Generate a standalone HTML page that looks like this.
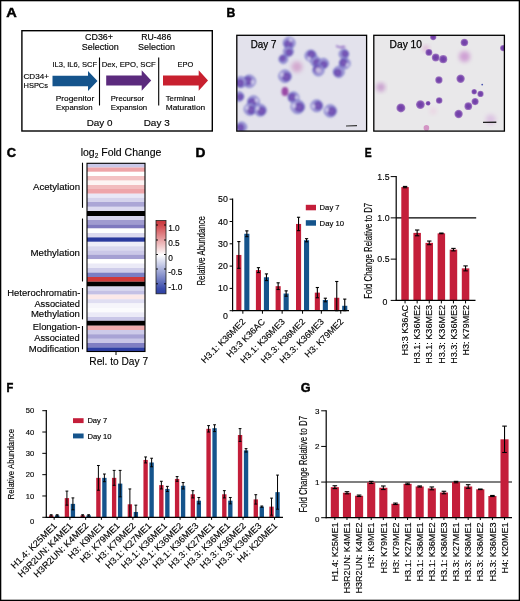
<!DOCTYPE html>
<html><head><meta charset="utf-8"><title>Figure</title>
<style>
html,body{margin:0;padding:0;background:#fff;}
text:not([stroke]){stroke:#000;stroke-width:0.14px;}
svg{display:block;opacity:0.999;font-family:'Liberation Sans', sans-serif;}
</style></head>
<body>
<svg width="520" height="601" viewBox="0 0 520 601" font-family='"Liberation Sans", sans-serif'>
<rect x="0.65" y="0.65" width="518.7" height="599.7" fill="#fff" stroke="#000" stroke-width="1.3"/>
<text x="6.30" y="16.70" font-size="12.5" font-weight="bold" textLength="10.5" lengthAdjust="spacingAndGlyphs" stroke="#000" stroke-width="0.45">A</text>
<text x="226.60" y="16.70" font-size="12.5" font-weight="bold" textLength="8.8" lengthAdjust="spacingAndGlyphs" stroke="#000" stroke-width="0.45">B</text>
<text x="6.70" y="157.30" font-size="12.5" font-weight="bold" textLength="9.3" lengthAdjust="spacingAndGlyphs" stroke="#000" stroke-width="0.45">C</text>
<text x="195.40" y="157.00" font-size="12.5" font-weight="bold" textLength="9.9" lengthAdjust="spacingAndGlyphs" stroke="#000" stroke-width="0.45">D</text>
<text x="364.80" y="157.00" font-size="12.5" font-weight="bold" textLength="6.9" lengthAdjust="spacingAndGlyphs" stroke="#000" stroke-width="0.45">E</text>
<text x="6.50" y="391.50" font-size="12.5" font-weight="bold" textLength="6.8" lengthAdjust="spacingAndGlyphs" stroke="#000" stroke-width="0.45">F</text>
<text x="300.70" y="392.20" font-size="12.5" font-weight="bold" textLength="9.8" lengthAdjust="spacingAndGlyphs" stroke="#000" stroke-width="0.45">G</text>
<rect x="21.9" y="30.7" width="190.4" height="100.3" fill="none" stroke="#000" stroke-width="1.4"/>
<polygon points="52.5,75.7 88,75.7 88,71 97.5,81 88,91 88,86.3 52.5,86.3" fill="#15548c"/>
<polygon points="106.2,75.5 141.7,75.5 141.7,70.2 151.2,80.5 141.7,90.8 141.7,85.5 106.2,85.5" fill="#5b2a7d"/>
<polygon points="163,75.5 198.7,75.5 198.7,70.2 208,80.5 198.7,90.8 198.7,85.5 163,85.5" fill="#c8202f"/>
<line x1="99.50" y1="57.50" x2="99.50" y2="105.50" stroke="#000" stroke-width="1.1" />
<line x1="158.70" y1="57.50" x2="158.70" y2="105.50" stroke="#000" stroke-width="1.1" />
<text x="99.00" y="40.20" font-size="9" text-anchor="middle" textLength="28" lengthAdjust="spacingAndGlyphs" >CD36+</text>
<text x="100.30" y="50.00" font-size="9" text-anchor="middle" textLength="37" lengthAdjust="spacingAndGlyphs" >Selection</text>
<text x="156.30" y="40.20" font-size="9" text-anchor="middle" textLength="30" lengthAdjust="spacingAndGlyphs" >RU-486</text>
<text x="156.60" y="50.00" font-size="9" text-anchor="middle" textLength="37" lengthAdjust="spacingAndGlyphs" >Selection</text>
<text x="52.50" y="67.00" font-size="7.6" textLength="44.5" lengthAdjust="spacingAndGlyphs" >IL3, IL6, SCF</text>
<text x="101.70" y="67.00" font-size="7.6" textLength="54" lengthAdjust="spacingAndGlyphs" >Dex, EPO, SCF</text>
<text x="177.50" y="67.00" font-size="7.6" textLength="15.7" lengthAdjust="spacingAndGlyphs" >EPO</text>
<text x="23.50" y="78.70" font-size="7.6" textLength="25.5" lengthAdjust="spacingAndGlyphs" >CD34+</text>
<text x="23.50" y="88.00" font-size="7.6" textLength="24.5" lengthAdjust="spacingAndGlyphs" >HSPCs</text>
<text x="55.70" y="101.00" font-size="7.6" textLength="38.5" lengthAdjust="spacingAndGlyphs" >Progenitor</text>
<text x="56.00" y="110.00" font-size="7.6" textLength="36.5" lengthAdjust="spacingAndGlyphs" >Expansion</text>
<text x="110.70" y="101.00" font-size="7.6" textLength="33.5" lengthAdjust="spacingAndGlyphs" >Precursor</text>
<text x="110.70" y="110.00" font-size="7.6" textLength="36.5" lengthAdjust="spacingAndGlyphs" >Expansion</text>
<text x="165.70" y="101.00" font-size="7.6" textLength="29.5" lengthAdjust="spacingAndGlyphs" >Terminal</text>
<text x="165.70" y="110.00" font-size="7.6" textLength="39.5" lengthAdjust="spacingAndGlyphs" >Maturation</text>
<text x="86.70" y="125.90" font-size="9.2" textLength="25.8" lengthAdjust="spacingAndGlyphs" >Day 0</text>
<text x="143.70" y="125.90" font-size="9.2" textLength="26" lengthAdjust="spacingAndGlyphs" >Day 3</text>
<defs>
<filter id="bl1" x="-20%" y="-20%" width="140%" height="140%"><feGaussianBlur stdDeviation="0.8"/></filter>
<filter id="bl3" x="-20%" y="-20%" width="140%" height="140%"><feGaussianBlur stdDeviation="0.55"/></filter>
<filter id="bl2" x="-30%" y="-30%" width="160%" height="160%"><feGaussianBlur stdDeviation="2"/></filter>
<radialGradient id="c7" cx="50%" cy="50%" r="50%"><stop offset="0" stop-color="#7f5fba"/><stop offset="0.7" stop-color="#6f4fb2"/><stop offset="1" stop-color="#6550b4"/></radialGradient>
<radialGradient id="c10" cx="50%" cy="50%" r="50%"><stop offset="0" stop-color="#6d3fa6"/><stop offset="0.6" stop-color="#7a47ad"/><stop offset="1" stop-color="#a784c6"/></radialGradient>
<clipPath id="clipB1"><rect x="236.8" y="35.3" width="129.8" height="95.8"/></clipPath>
<clipPath id="clipB2"><rect x="373.8" y="35.3" width="130.6" height="95.8"/></clipPath>
</defs>
<rect x="236.80" y="35.30" width="129.80" height="95.80" fill="#e3e2ec" />
<g clip-path="url(#clipB1)"><g filter="url(#bl1)">
<circle cx="289.2" cy="43" r="5.82" fill="#a9a0da" stroke="#6468c4" stroke-width="0.9"/>
<circle cx="288.63" cy="44.15" r="4.31" fill="url(#c7)"/>
<ellipse cx="290.69" cy="40.02" rx="1.75" ry="2.10" fill="#d4d0ee" opacity="0.9"/>
<circle cx="288.4" cy="51.5" r="4.82" fill="#a9a0da" stroke="#6468c4" stroke-width="0.9"/>
<circle cx="289.02" cy="52.36" r="3.56" fill="url(#c7)"/>
<circle cx="283.3" cy="59.2" r="4.26" fill="#a9a0da" stroke="#6468c4" stroke-width="0.9"/>
<circle cx="282.75" cy="58.44" r="3.15" fill="url(#c7)"/>
<circle cx="285" cy="76.2" r="6.16" fill="#a9a0da" stroke="#6468c4" stroke-width="0.9"/>
<circle cx="286.22" cy="76.80" r="4.56" fill="url(#c7)"/>
<ellipse cx="281.84" cy="74.65" rx="1.85" ry="2.22" fill="#d4d0ee" opacity="0.9"/>
<circle cx="249.3" cy="81.3" r="6.16" fill="#a9a0da" stroke="#6468c4" stroke-width="0.9"/>
<circle cx="247.98" cy="81.00" r="4.56" fill="url(#c7)"/>
<ellipse cx="252.73" cy="82.09" rx="1.85" ry="2.22" fill="#d4d0ee" opacity="0.9"/>
<circle cx="240.8" cy="82.1" r="5.38" fill="#a9a0da" stroke="#6468c4" stroke-width="0.9"/>
<circle cx="240.01" cy="82.98" r="3.98" fill="url(#c7)"/>
<circle cx="239" cy="96.5" r="4.70" fill="#a9a0da" stroke="#6468c4" stroke-width="0.9"/>
<circle cx="239.97" cy="96.87" r="3.48" fill="url(#c7)"/>
<circle cx="293.5" cy="97.4" r="5.38" fill="#a9a0da" stroke="#6468c4" stroke-width="0.9"/>
<circle cx="292.32" cy="97.34" r="3.98" fill="url(#c7)"/>
<ellipse cx="296.57" cy="97.54" rx="1.61" ry="1.94" fill="#d4d0ee" opacity="0.9"/>
<circle cx="297.7" cy="106.8" r="6.72" fill="#a9a0da" stroke="#6468c4" stroke-width="0.9"/>
<circle cx="299.14" cy="107.15" r="4.97" fill="url(#c7)"/>
<ellipse cx="293.96" cy="105.90" rx="2.02" ry="2.42" fill="#d4d0ee" opacity="0.9"/>
<circle cx="253.5" cy="101.7" r="5.82" fill="#a9a0da" stroke="#6468c4" stroke-width="0.9"/>
<circle cx="252.33" cy="102.22" r="4.31" fill="url(#c7)"/>
<ellipse cx="256.55" cy="100.35" rx="1.75" ry="2.10" fill="#d4d0ee" opacity="0.9"/>
<circle cx="250" cy="109.3" r="5.82" fill="#a9a0da" stroke="#6468c4" stroke-width="0.9"/>
<circle cx="251.16" cy="109.84" r="4.31" fill="url(#c7)"/>
<ellipse cx="246.98" cy="107.88" rx="1.75" ry="2.10" fill="#d4d0ee" opacity="0.9"/>
<circle cx="260.3" cy="110.2" r="5.82" fill="#a9a0da" stroke="#6468c4" stroke-width="0.9"/>
<circle cx="261.38" cy="110.89" r="4.31" fill="url(#c7)"/>
<ellipse cx="257.50" cy="108.40" rx="1.75" ry="2.10" fill="#d4d0ee" opacity="0.9"/>
<circle cx="241.6" cy="127" r="4.93" fill="#a9a0da" stroke="#6468c4" stroke-width="0.9"/>
<circle cx="240.64" cy="127.50" r="3.65" fill="url(#c7)"/>
<circle cx="310.7" cy="55.8" r="5.60" fill="#a9a0da" stroke="#6468c4" stroke-width="0.9"/>
<circle cx="311.27" cy="54.71" r="4.14" fill="url(#c7)"/>
<ellipse cx="309.21" cy="58.64" rx="1.68" ry="2.02" fill="#d4d0ee" opacity="0.9"/>
<circle cx="315.8" cy="61.7" r="4.93" fill="#a9a0da" stroke="#6468c4" stroke-width="0.9"/>
<circle cx="316.57" cy="62.46" r="3.65" fill="url(#c7)"/>
<circle cx="323.5" cy="63.4" r="4.93" fill="#a9a0da" stroke="#6468c4" stroke-width="0.9"/>
<circle cx="323.68" cy="64.47" r="3.65" fill="url(#c7)"/>
<circle cx="318.4" cy="70.2" r="5.60" fill="#a9a0da" stroke="#6468c4" stroke-width="0.9"/>
<circle cx="317.54" cy="69.32" r="4.14" fill="url(#c7)"/>
<circle cx="318.4" cy="70.2" r="2.80" fill="#cfc6e6" opacity="0.9"/>
<circle cx="343.9" cy="54.1" r="4.70" fill="#a9a0da" stroke="#6468c4" stroke-width="0.9"/>
<circle cx="344.88" cy="53.77" r="3.48" fill="url(#c7)"/>
<circle cx="344.7" cy="63.4" r="5.38" fill="#a9a0da" stroke="#6468c4" stroke-width="0.9"/>
<circle cx="343.65" cy="62.85" r="3.98" fill="url(#c7)"/>
<ellipse cx="347.42" cy="64.83" rx="1.61" ry="1.94" fill="#d4d0ee" opacity="0.9"/>
<circle cx="338.8" cy="71.9" r="5.38" fill="#a9a0da" stroke="#6468c4" stroke-width="0.9"/>
<circle cx="337.86" cy="72.62" r="3.98" fill="url(#c7)"/>
<circle cx="316.7" cy="105.8" r="5.82" fill="#a9a0da" stroke="#6468c4" stroke-width="0.9"/>
<circle cx="317.97" cy="105.61" r="4.31" fill="url(#c7)"/>
<ellipse cx="313.41" cy="106.30" rx="1.75" ry="2.10" fill="#d4d0ee" opacity="0.9"/>
<circle cx="330.3" cy="110.9" r="6.05" fill="#a9a0da" stroke="#6468c4" stroke-width="0.9"/>
<circle cx="331.57" cy="111.28" r="4.48" fill="url(#c7)"/>
<ellipse cx="326.99" cy="109.90" rx="1.81" ry="2.18" fill="#d4d0ee" opacity="0.9"/>
<ellipse cx="285" cy="91.5" rx="3.4" ry="4.6" fill="#9a4aa6"/>
<path d="M336 45 l4 1.5 l4 -1 l2 2 l-5 1 l-5 -1.5z" fill="#9a78c8"/>
</g>
<circle cx="296.9" cy="66.8" r="5.5" fill="#d3a9cf" filter="url(#bl2)"/>
</g>
<rect x="236.8" y="35.3" width="129.8" height="95.8" fill="none" stroke="#000" stroke-width="1.3"/>
<text x="250.80" y="47.70" font-size="10.2" textLength="25.6" lengthAdjust="spacingAndGlyphs" stroke="#000" stroke-width="0.25">Day 7</text>
<rect x="373.80" y="35.30" width="130.60" height="95.80" fill="#e9e8ea" />
<g clip-path="url(#clipB2)">
<circle cx="380.8" cy="87.2" r="4.5" fill="#c9a0cf" filter="url(#bl2)"/>
<circle cx="464.6" cy="56.5" r="5.5" fill="#cfa0d4" filter="url(#bl2)"/>
<circle cx="490.7" cy="119.4" r="5" fill="#dcc3e2" filter="url(#bl2)"/>
<circle cx="433.2" cy="110.9" r="3.5" fill="#ead6e4" filter="url(#bl2)"/>
<circle cx="426" cy="48.5" r="3.2" fill="#e0b8d8" filter="url(#bl2)"/>
<g filter="url(#bl3)">
<circle cx="433.2" cy="37.1" r="3.15" fill="url(#c10)"/>
<circle cx="428.9" cy="52.4" r="3.46" fill="url(#c10)"/>
<circle cx="435.7" cy="57.5" r="3.89" fill="url(#c10)"/>
<circle cx="443.2" cy="59.2" r="4.09" fill="url(#c10)"/>
<circle cx="438.9" cy="80" r="3.68" fill="url(#c10)"/>
<circle cx="400.9" cy="107.9" r="4.51" fill="url(#c10)"/>
<circle cx="420.4" cy="104.6" r="4.41" fill="url(#c10)"/>
<circle cx="428.1" cy="103.3" r="2.42" fill="url(#c10)"/>
<circle cx="439.2" cy="100.5" r="3.26" fill="url(#c10)"/>
<circle cx="464.4" cy="42.5" r="3.78" fill="url(#c10)"/>
<circle cx="460.6" cy="78.7" r="4.20" fill="url(#c10)"/>
<circle cx="474.2" cy="91.7" r="2.73" fill="url(#c10)"/>
<circle cx="480.5" cy="93.9" r="3.15" fill="url(#c10)"/>
<circle cx="475.1" cy="101.6" r="3.57" fill="url(#c10)"/>
<circle cx="468.3" cy="106.2" r="3.89" fill="url(#c10)"/>
<circle cx="458.6" cy="114" r="4.20" fill="url(#c10)"/>
<circle cx="503.2" cy="48.1" r="3.15" fill="url(#c10)"/>
<circle cx="426.4" cy="127.9" r="2.8" fill="#d394c4"/>
<circle cx="482.2" cy="84.6" r="0.9" fill="#4a55b0"/>
</g></g>
<rect x="373.8" y="35.3" width="130.6" height="95.8" fill="none" stroke="#000" stroke-width="1.3"/>
<text x="389.60" y="47.80" font-size="10.2" textLength="32.4" lengthAdjust="spacingAndGlyphs" stroke="#000" stroke-width="0.25">Day 10</text>
<line x1="346.00" y1="126.00" x2="357.00" y2="125.60" stroke="#333" stroke-width="1.2" />
<line x1="483.00" y1="122.40" x2="496.30" y2="122.20" stroke="#222" stroke-width="1.4" />
<rect x="87.00" y="163.30" width="58.00" height="4.25" fill="#cac8e8" />
<rect x="87.00" y="167.50" width="58.00" height="4.35" fill="#eea4a8" />
<rect x="87.00" y="171.80" width="58.00" height="4.25" fill="#ffffff" />
<rect x="87.00" y="176.00" width="58.00" height="4.65" fill="#f3c2c4" />
<rect x="87.00" y="180.60" width="58.00" height="4.45" fill="#fdf4f4" />
<rect x="87.00" y="185.00" width="58.00" height="4.05" fill="#f2bcbf" />
<rect x="87.00" y="189.00" width="58.00" height="4.75" fill="#eea5aa" />
<rect x="87.00" y="193.70" width="58.00" height="4.15" fill="#e9e8f7" />
<rect x="87.00" y="197.80" width="58.00" height="4.25" fill="#d5d3ec" />
<rect x="87.00" y="202.00" width="58.00" height="4.85" fill="#aba6d6" />
<rect x="87.00" y="206.80" width="58.00" height="4.25" fill="#dcdaf0" />
<rect x="87.00" y="211.00" width="58.00" height="5.05" fill="#000000" />
<rect x="87.00" y="216.00" width="58.00" height="4.05" fill="#d6d4ee" />
<rect x="87.00" y="220.00" width="58.00" height="4.35" fill="#a09bd0" />
<rect x="87.00" y="224.30" width="58.00" height="4.25" fill="#7f79bf" />
<rect x="87.00" y="228.50" width="58.00" height="4.55" fill="#ffffff" />
<rect x="87.00" y="233.00" width="58.00" height="4.45" fill="#dcdaf0" />
<rect x="87.00" y="237.40" width="58.00" height="4.45" fill="#2b3a9e" />
<rect x="87.00" y="241.80" width="58.00" height="4.45" fill="#eeedf8" />
<rect x="87.00" y="246.20" width="58.00" height="4.15" fill="#d9d7ee" />
<rect x="87.00" y="250.30" width="58.00" height="4.35" fill="#cbc8e8" />
<rect x="87.00" y="254.60" width="58.00" height="4.65" fill="#a5a0d3" />
<rect x="87.00" y="259.20" width="58.00" height="4.35" fill="#ffffff" />
<rect x="87.00" y="263.50" width="58.00" height="4.55" fill="#ebeaf7" />
<rect x="87.00" y="268.00" width="58.00" height="4.65" fill="#cfcdea" />
<rect x="87.00" y="272.60" width="58.00" height="4.45" fill="#7c7fc4" />
<rect x="87.00" y="277.00" width="58.00" height="4.75" fill="#d03a3a" />
<rect x="87.00" y="281.70" width="58.00" height="4.85" fill="#000000" />
<rect x="87.00" y="286.50" width="58.00" height="4.05" fill="#d8d6ee" />
<rect x="87.00" y="290.50" width="58.00" height="4.15" fill="#c4c1e5" />
<rect x="87.00" y="294.60" width="58.00" height="4.65" fill="#fbe9e9" />
<rect x="87.00" y="299.20" width="58.00" height="4.25" fill="#e0def2" />
<rect x="87.00" y="303.40" width="58.00" height="4.65" fill="#f6f5fb" />
<rect x="87.00" y="308.00" width="58.00" height="4.35" fill="#fbfbfd" />
<rect x="87.00" y="312.30" width="58.00" height="4.75" fill="#ebeaf7" />
<rect x="87.00" y="317.00" width="58.00" height="3.85" fill="#c9c6e7" />
<rect x="87.00" y="320.80" width="58.00" height="4.95" fill="#000000" />
<rect x="87.00" y="325.70" width="58.00" height="4.35" fill="#eeabae" />
<rect x="87.00" y="330.00" width="58.00" height="4.25" fill="#cdcae9" />
<rect x="87.00" y="334.20" width="58.00" height="4.65" fill="#a8a3d5" />
<rect x="87.00" y="338.80" width="58.00" height="4.25" fill="#c9c6e7" />
<rect x="87.00" y="343.00" width="58.00" height="4.45" fill="#807fc3" />
<rect x="87.00" y="347.40" width="58.00" height="4.15" fill="#2e3ea3" />
<rect x="87.0" y="163.3" width="58.0" height="188.2" fill="none" stroke="#000" stroke-width="1.1"/>
<line x1="116.00" y1="351.50" x2="116.00" y2="355.00" stroke="#000" stroke-width="1.0" />
<line x1="82.50" y1="162.70" x2="82.50" y2="207.80" stroke="#000" stroke-width="1.1" />
<line x1="82.50" y1="218.50" x2="82.50" y2="281.50" stroke="#000" stroke-width="1.1" />
<line x1="82.50" y1="288.00" x2="82.50" y2="319.40" stroke="#000" stroke-width="1.1" />
<line x1="82.50" y1="326.00" x2="82.50" y2="349.30" stroke="#000" stroke-width="1.1" />
<text x="80.70" y="155.60" font-size="10.5" >log<tspan font-size="6.5" dy="2">2</tspan><tspan dy="-2"> Fold Change</tspan></text>
<text x="80.00" y="189.80" font-size="9.6" text-anchor="end" textLength="47" lengthAdjust="spacingAndGlyphs" >Acetylation</text>
<text x="80.00" y="256.20" font-size="9.6" text-anchor="end" textLength="49.5" lengthAdjust="spacingAndGlyphs" >Methylation</text>
<text x="80.30" y="296.20" font-size="9.6" text-anchor="end" textLength="73" lengthAdjust="spacingAndGlyphs" >Heterochromatin-</text>
<text x="79.90" y="306.80" font-size="9.6" text-anchor="end" textLength="45.5" lengthAdjust="spacingAndGlyphs" >Associated</text>
<text x="79.90" y="317.30" font-size="9.6" text-anchor="end" textLength="49" lengthAdjust="spacingAndGlyphs" >Methylation</text>
<text x="80.30" y="330.20" font-size="9.6" text-anchor="end" textLength="47.5" lengthAdjust="spacingAndGlyphs" >Elongation-</text>
<text x="79.70" y="340.60" font-size="9.6" text-anchor="end" textLength="45.5" lengthAdjust="spacingAndGlyphs" >Associated</text>
<text x="79.70" y="352.00" font-size="9.6" text-anchor="end" textLength="51" lengthAdjust="spacingAndGlyphs" >Modification</text>
<text x="89.30" y="365.20" font-size="10.6" textLength="58.8" lengthAdjust="spacingAndGlyphs" >Rel. to Day 7</text>
<defs><linearGradient id="cb" x1="0" y1="0" x2="0" y2="1">
<stop offset="0" stop-color="#c9363c"/><stop offset="0.07" stop-color="#d24a4f"/><stop offset="0.47" stop-color="#ffffff"/><stop offset="0.93" stop-color="#3b4cab"/><stop offset="1" stop-color="#2c3fa2"/></linearGradient></defs>
<rect x="156" y="220.5" width="10" height="73.3" fill="url(#cb)" stroke="#222" stroke-width="0.8"/>
<line x1="156.00" y1="225.00" x2="158.00" y2="225.00" stroke="#000" stroke-width="0.9" />
<line x1="164.00" y1="225.00" x2="166.00" y2="225.00" stroke="#000" stroke-width="0.9" />
<text x="168.20" y="231.20" font-size="8.3" >1.0</text>
<line x1="156.00" y1="240.00" x2="158.00" y2="240.00" stroke="#000" stroke-width="0.9" />
<line x1="164.00" y1="240.00" x2="166.00" y2="240.00" stroke="#000" stroke-width="0.9" />
<text x="168.20" y="246.20" font-size="8.3" >0.5</text>
<line x1="156.00" y1="254.50" x2="158.00" y2="254.50" stroke="#000" stroke-width="0.9" />
<line x1="164.00" y1="254.50" x2="166.00" y2="254.50" stroke="#000" stroke-width="0.9" />
<text x="168.20" y="260.70" font-size="8.3" >0</text>
<line x1="156.00" y1="269.00" x2="158.00" y2="269.00" stroke="#000" stroke-width="0.9" />
<line x1="164.00" y1="269.00" x2="166.00" y2="269.00" stroke="#000" stroke-width="0.9" />
<text x="168.20" y="275.20" font-size="8.3" >-0.5</text>
<line x1="156.00" y1="283.80" x2="158.00" y2="283.80" stroke="#000" stroke-width="0.9" />
<line x1="164.00" y1="283.80" x2="166.00" y2="283.80" stroke="#000" stroke-width="0.9" />
<text x="168.20" y="290.00" font-size="8.3" >-1.0</text>
<rect x="236.30" y="254.95" width="5.10" height="55.75" fill="#c41e3a" />
<rect x="244.30" y="233.76" width="5.10" height="76.94" fill="#15548c" />
<line x1="238.85" y1="241.57" x2="238.85" y2="268.33" stroke="#000" stroke-width="1.1" />
<line x1="237.25" y1="241.57" x2="240.45" y2="241.57" stroke="#000" stroke-width="1.1" />
<line x1="237.25" y1="268.33" x2="240.45" y2="268.33" stroke="#000" stroke-width="1.1" />
<line x1="246.85" y1="230.87" x2="246.85" y2="236.66" stroke="#000" stroke-width="1.1" />
<line x1="245.25" y1="230.87" x2="248.45" y2="230.87" stroke="#000" stroke-width="1.1" />
<line x1="245.25" y1="236.66" x2="248.45" y2="236.66" stroke="#000" stroke-width="1.1" />
<rect x="255.90" y="270.11" width="5.10" height="40.59" fill="#c41e3a" />
<rect x="263.90" y="277.25" width="5.10" height="33.45" fill="#15548c" />
<line x1="258.45" y1="267.66" x2="258.45" y2="272.57" stroke="#000" stroke-width="1.1" />
<line x1="256.85" y1="267.66" x2="260.05" y2="267.66" stroke="#000" stroke-width="1.1" />
<line x1="256.85" y1="272.57" x2="260.05" y2="272.57" stroke="#000" stroke-width="1.1" />
<line x1="266.45" y1="273.90" x2="266.45" y2="280.59" stroke="#000" stroke-width="1.1" />
<line x1="264.85" y1="273.90" x2="268.05" y2="273.90" stroke="#000" stroke-width="1.1" />
<line x1="264.85" y1="280.59" x2="268.05" y2="280.59" stroke="#000" stroke-width="1.1" />
<rect x="275.60" y="286.17" width="5.10" height="24.53" fill="#c41e3a" />
<rect x="283.60" y="293.53" width="5.10" height="17.17" fill="#15548c" />
<line x1="278.15" y1="282.82" x2="278.15" y2="289.51" stroke="#000" stroke-width="1.1" />
<line x1="276.55" y1="282.82" x2="279.75" y2="282.82" stroke="#000" stroke-width="1.1" />
<line x1="276.55" y1="289.51" x2="279.75" y2="289.51" stroke="#000" stroke-width="1.1" />
<line x1="286.15" y1="290.85" x2="286.15" y2="296.20" stroke="#000" stroke-width="1.1" />
<line x1="284.55" y1="290.85" x2="287.75" y2="290.85" stroke="#000" stroke-width="1.1" />
<line x1="284.55" y1="296.20" x2="287.75" y2="296.20" stroke="#000" stroke-width="1.1" />
<rect x="296.00" y="223.95" width="5.10" height="86.75" fill="#c41e3a" />
<rect x="304.00" y="240.23" width="5.10" height="70.47" fill="#15548c" />
<line x1="298.55" y1="217.26" x2="298.55" y2="230.64" stroke="#000" stroke-width="1.1" />
<line x1="296.95" y1="217.26" x2="300.15" y2="217.26" stroke="#000" stroke-width="1.1" />
<line x1="296.95" y1="230.64" x2="300.15" y2="230.64" stroke="#000" stroke-width="1.1" />
<line x1="306.55" y1="238.67" x2="306.55" y2="241.79" stroke="#000" stroke-width="1.1" />
<line x1="304.95" y1="238.67" x2="308.15" y2="238.67" stroke="#000" stroke-width="1.1" />
<line x1="304.95" y1="241.79" x2="308.15" y2="241.79" stroke="#000" stroke-width="1.1" />
<rect x="314.80" y="292.64" width="5.10" height="18.06" fill="#c41e3a" />
<rect x="322.80" y="300.00" width="5.10" height="10.70" fill="#15548c" />
<line x1="317.35" y1="287.51" x2="317.35" y2="297.77" stroke="#000" stroke-width="1.1" />
<line x1="315.75" y1="287.51" x2="318.95" y2="287.51" stroke="#000" stroke-width="1.1" />
<line x1="315.75" y1="297.77" x2="318.95" y2="297.77" stroke="#000" stroke-width="1.1" />
<line x1="325.35" y1="298.21" x2="325.35" y2="301.78" stroke="#000" stroke-width="1.1" />
<line x1="323.75" y1="298.21" x2="326.95" y2="298.21" stroke="#000" stroke-width="1.1" />
<line x1="323.75" y1="301.78" x2="326.95" y2="301.78" stroke="#000" stroke-width="1.1" />
<rect x="334.20" y="297.77" width="5.10" height="12.93" fill="#c41e3a" />
<rect x="342.20" y="305.79" width="5.10" height="4.91" fill="#15548c" />
<line x1="336.75" y1="281.49" x2="336.75" y2="310.70" stroke="#000" stroke-width="1.1" />
<line x1="335.15" y1="281.49" x2="338.35" y2="281.49" stroke="#000" stroke-width="1.1" />
<line x1="335.15" y1="310.70" x2="338.35" y2="310.70" stroke="#000" stroke-width="1.1" />
<line x1="344.75" y1="299.10" x2="344.75" y2="310.70" stroke="#000" stroke-width="1.1" />
<line x1="343.15" y1="299.10" x2="346.35" y2="299.10" stroke="#000" stroke-width="1.1" />
<line x1="343.15" y1="310.70" x2="346.35" y2="310.70" stroke="#000" stroke-width="1.1" />
<line x1="232.60" y1="198.60" x2="232.60" y2="311.30" stroke="#000" stroke-width="1.2" />
<line x1="232.00" y1="310.70" x2="349.00" y2="310.70" stroke="#000" stroke-width="1.2" />
<line x1="229.60" y1="310.70" x2="232.60" y2="310.70" stroke="#000" stroke-width="1.0" />
<text x="227.80" y="318.50" font-size="8.8" text-anchor="end" >0</text>
<line x1="229.60" y1="288.40" x2="232.60" y2="288.40" stroke="#000" stroke-width="1.0" />
<text x="227.80" y="291.40" font-size="8.8" text-anchor="end" >10</text>
<line x1="229.60" y1="266.10" x2="232.60" y2="266.10" stroke="#000" stroke-width="1.0" />
<text x="227.80" y="269.10" font-size="8.8" text-anchor="end" >20</text>
<line x1="229.60" y1="243.80" x2="232.60" y2="243.80" stroke="#000" stroke-width="1.0" />
<text x="227.80" y="246.80" font-size="8.8" text-anchor="end" >30</text>
<line x1="229.60" y1="221.50" x2="232.60" y2="221.50" stroke="#000" stroke-width="1.0" />
<text x="227.80" y="224.50" font-size="8.8" text-anchor="end" >40</text>
<line x1="229.60" y1="199.20" x2="232.60" y2="199.20" stroke="#000" stroke-width="1.0" />
<text x="227.80" y="202.20" font-size="8.8" text-anchor="end" >50</text>
<line x1="242.85" y1="310.70" x2="242.85" y2="313.70" stroke="#000" stroke-width="1.0" />
<line x1="262.45" y1="310.70" x2="262.45" y2="313.70" stroke="#000" stroke-width="1.0" />
<line x1="282.15" y1="310.70" x2="282.15" y2="313.70" stroke="#000" stroke-width="1.0" />
<line x1="302.55" y1="310.70" x2="302.55" y2="313.70" stroke="#000" stroke-width="1.0" />
<line x1="321.35" y1="310.70" x2="321.35" y2="313.70" stroke="#000" stroke-width="1.0" />
<line x1="340.75" y1="310.70" x2="340.75" y2="313.70" stroke="#000" stroke-width="1.0" />
<text transform="translate(246.15 322.30) rotate(-45)" font-size="8.9" text-anchor="end" textLength="58.5" lengthAdjust="spacingAndGlyphs" >H3.1: K36ME2</text>
<text transform="translate(265.75 322.30) rotate(-45)" font-size="8.9" text-anchor="end" textLength="50.5" lengthAdjust="spacingAndGlyphs" >H3:3 K36AC</text>
<text transform="translate(285.45 322.30) rotate(-45)" font-size="8.9" text-anchor="end" textLength="58.5" lengthAdjust="spacingAndGlyphs" >H3.1: K36ME3</text>
<text transform="translate(305.85 322.30) rotate(-45)" font-size="8.9" text-anchor="end" textLength="58.5" lengthAdjust="spacingAndGlyphs" >H3.3: K36ME2</text>
<text transform="translate(324.65 322.30) rotate(-45)" font-size="8.9" text-anchor="end" textLength="58.5" lengthAdjust="spacingAndGlyphs" >H3.3: K36ME3</text>
<text transform="translate(344.05 322.30) rotate(-45)" font-size="8.9" text-anchor="end" textLength="50.5" lengthAdjust="spacingAndGlyphs" >H3: K79ME2</text>
<text transform="translate(205.30 250.80) rotate(-90)" font-size="10.5" text-anchor="middle" textLength="69.5" lengthAdjust="spacingAndGlyphs" >Relative Abundance</text>
<rect x="305.80" y="204.80" width="10.20" height="5.50" fill="#c41e3a" />
<text x="319.60" y="210.10" font-size="7.7" textLength="20" lengthAdjust="spacingAndGlyphs" >Day 7</text>
<rect x="305.80" y="220.20" width="10.20" height="5.50" fill="#15548c" />
<text x="319.60" y="225.50" font-size="7.7" textLength="24.5" lengthAdjust="spacingAndGlyphs" >Day 10</text>
<line x1="396.20" y1="217.87" x2="476.20" y2="217.87" stroke="#000" stroke-width="1.1" />
<rect x="401.30" y="187.08" width="7.50" height="113.32" fill="#c41e3a" />
<line x1="405.05" y1="186.42" x2="405.05" y2="187.74" stroke="#000" stroke-width="1.1" />
<line x1="402.85" y1="186.42" x2="407.25" y2="186.42" stroke="#000" stroke-width="1.1" />
<line x1="402.85" y1="187.74" x2="407.25" y2="187.74" stroke="#000" stroke-width="1.1" />
<rect x="413.40" y="232.89" width="7.50" height="67.51" fill="#c41e3a" />
<line x1="417.15" y1="230.00" x2="417.15" y2="235.78" stroke="#000" stroke-width="1.1" />
<line x1="414.95" y1="230.00" x2="419.35" y2="230.00" stroke="#000" stroke-width="1.1" />
<line x1="414.95" y1="235.78" x2="419.35" y2="235.78" stroke="#000" stroke-width="1.1" />
<rect x="425.50" y="242.87" width="7.50" height="57.53" fill="#c41e3a" />
<line x1="429.25" y1="241.06" x2="429.25" y2="244.69" stroke="#000" stroke-width="1.1" />
<line x1="427.05" y1="241.06" x2="431.45" y2="241.06" stroke="#000" stroke-width="1.1" />
<line x1="427.05" y1="244.69" x2="431.45" y2="244.69" stroke="#000" stroke-width="1.1" />
<rect x="437.60" y="233.38" width="7.50" height="67.02" fill="#c41e3a" />
<line x1="441.35" y1="233.05" x2="441.35" y2="233.71" stroke="#000" stroke-width="1.1" />
<line x1="439.15" y1="233.05" x2="443.55" y2="233.05" stroke="#000" stroke-width="1.1" />
<line x1="439.15" y1="233.71" x2="443.55" y2="233.71" stroke="#000" stroke-width="1.1" />
<rect x="449.70" y="249.64" width="7.50" height="50.76" fill="#c41e3a" />
<line x1="453.45" y1="248.40" x2="453.45" y2="250.88" stroke="#000" stroke-width="1.1" />
<line x1="451.25" y1="248.40" x2="455.65" y2="248.40" stroke="#000" stroke-width="1.1" />
<line x1="451.25" y1="250.88" x2="455.65" y2="250.88" stroke="#000" stroke-width="1.1" />
<rect x="461.80" y="268.38" width="7.50" height="32.02" fill="#c41e3a" />
<line x1="465.55" y1="265.90" x2="465.55" y2="270.85" stroke="#000" stroke-width="1.1" />
<line x1="463.35" y1="265.90" x2="467.75" y2="265.90" stroke="#000" stroke-width="1.1" />
<line x1="463.35" y1="270.85" x2="467.75" y2="270.85" stroke="#000" stroke-width="1.1" />
<line x1="396.20" y1="176.00" x2="396.20" y2="301.00" stroke="#000" stroke-width="1.2" />
<line x1="395.60" y1="300.40" x2="475.50" y2="300.40" stroke="#000" stroke-width="1.2" />
<line x1="390.70" y1="300.40" x2="396.20" y2="300.40" stroke="#000" stroke-width="1.0" />
<text x="387.50" y="305.00" font-size="8.8" text-anchor="end" >0</text>
<line x1="390.70" y1="259.13" x2="396.20" y2="259.13" stroke="#000" stroke-width="1.0" />
<text x="389.60" y="262.13" font-size="8.8" text-anchor="end" >0.5</text>
<line x1="390.70" y1="217.87" x2="396.20" y2="217.87" stroke="#000" stroke-width="1.0" />
<text x="389.60" y="220.87" font-size="8.8" text-anchor="end" >1.0</text>
<line x1="390.70" y1="176.60" x2="396.20" y2="176.60" stroke="#000" stroke-width="1.0" />
<text x="389.60" y="179.60" font-size="8.8" text-anchor="end" >1.5</text>
<line x1="405.05" y1="300.40" x2="405.05" y2="303.40" stroke="#000" stroke-width="1.0" />
<text transform="translate(408.25 305.00) rotate(-90)" font-size="8.9" text-anchor="end" textLength="50.5" lengthAdjust="spacingAndGlyphs" >H3:3 K36AC</text>
<line x1="417.15" y1="300.40" x2="417.15" y2="303.40" stroke="#000" stroke-width="1.0" />
<text transform="translate(420.35 305.00) rotate(-90)" font-size="8.9" text-anchor="end" textLength="58.8" lengthAdjust="spacingAndGlyphs" >H3.1: K36ME2</text>
<line x1="429.25" y1="300.40" x2="429.25" y2="303.40" stroke="#000" stroke-width="1.0" />
<text transform="translate(432.45 305.00) rotate(-90)" font-size="8.9" text-anchor="end" textLength="58.8" lengthAdjust="spacingAndGlyphs" >H3.1: K36ME3</text>
<line x1="441.35" y1="300.40" x2="441.35" y2="303.40" stroke="#000" stroke-width="1.0" />
<text transform="translate(444.55 305.00) rotate(-90)" font-size="8.9" text-anchor="end" textLength="58.8" lengthAdjust="spacingAndGlyphs" >H3.3: K36ME2</text>
<line x1="453.45" y1="300.40" x2="453.45" y2="303.40" stroke="#000" stroke-width="1.0" />
<text transform="translate(456.65 305.00) rotate(-90)" font-size="8.9" text-anchor="end" textLength="58.8" lengthAdjust="spacingAndGlyphs" >H3.3: K36ME3</text>
<line x1="465.55" y1="300.40" x2="465.55" y2="303.40" stroke="#000" stroke-width="1.0" />
<text transform="translate(468.75 305.00) rotate(-90)" font-size="8.9" text-anchor="end" textLength="50.5" lengthAdjust="spacingAndGlyphs" >H3: K79ME2</text>
<text transform="translate(372.30 250.80) rotate(-90)" font-size="10.3" text-anchor="middle" textLength="96" lengthAdjust="spacingAndGlyphs" >Fold Change Relative to D7</text>
<rect x="49.00" y="515.38" width="4.35" height="1.92" fill="#c41e3a" />
<rect x="55.00" y="515.38" width="4.35" height="1.92" fill="#15548c" />
<line x1="51.17" y1="514.74" x2="51.17" y2="516.02" stroke="#000" stroke-width="1.0" />
<line x1="49.77" y1="514.74" x2="52.57" y2="514.74" stroke="#000" stroke-width="1.0" />
<line x1="49.77" y1="516.02" x2="52.57" y2="516.02" stroke="#000" stroke-width="1.0" />
<line x1="57.17" y1="514.74" x2="57.17" y2="516.02" stroke="#000" stroke-width="1.0" />
<line x1="55.77" y1="514.74" x2="58.57" y2="514.74" stroke="#000" stroke-width="1.0" />
<line x1="55.77" y1="516.02" x2="58.57" y2="516.02" stroke="#000" stroke-width="1.0" />
<rect x="64.74" y="498.11" width="4.35" height="19.19" fill="#c41e3a" />
<rect x="70.74" y="503.87" width="4.35" height="13.43" fill="#15548c" />
<line x1="66.91" y1="491.08" x2="66.91" y2="505.15" stroke="#000" stroke-width="1.0" />
<line x1="65.51" y1="491.08" x2="68.31" y2="491.08" stroke="#000" stroke-width="1.0" />
<line x1="65.51" y1="505.15" x2="68.31" y2="505.15" stroke="#000" stroke-width="1.0" />
<line x1="72.91" y1="497.90" x2="72.91" y2="509.84" stroke="#000" stroke-width="1.0" />
<line x1="71.51" y1="497.90" x2="74.31" y2="497.90" stroke="#000" stroke-width="1.0" />
<line x1="71.51" y1="509.84" x2="74.31" y2="509.84" stroke="#000" stroke-width="1.0" />
<rect x="80.48" y="515.38" width="4.35" height="1.92" fill="#c41e3a" />
<rect x="86.48" y="515.38" width="4.35" height="1.92" fill="#15548c" />
<line x1="82.66" y1="514.74" x2="82.66" y2="516.02" stroke="#000" stroke-width="1.0" />
<line x1="81.25" y1="514.74" x2="84.06" y2="514.74" stroke="#000" stroke-width="1.0" />
<line x1="81.25" y1="516.02" x2="84.06" y2="516.02" stroke="#000" stroke-width="1.0" />
<line x1="88.66" y1="514.74" x2="88.66" y2="516.02" stroke="#000" stroke-width="1.0" />
<line x1="87.25" y1="514.74" x2="90.06" y2="514.74" stroke="#000" stroke-width="1.0" />
<line x1="87.25" y1="516.02" x2="90.06" y2="516.02" stroke="#000" stroke-width="1.0" />
<rect x="96.22" y="477.86" width="4.35" height="39.44" fill="#c41e3a" />
<rect x="102.22" y="477.86" width="4.35" height="39.44" fill="#15548c" />
<line x1="98.39" y1="465.49" x2="98.39" y2="490.22" stroke="#000" stroke-width="1.0" />
<line x1="96.99" y1="465.49" x2="99.80" y2="465.49" stroke="#000" stroke-width="1.0" />
<line x1="96.99" y1="490.22" x2="99.80" y2="490.22" stroke="#000" stroke-width="1.0" />
<line x1="104.39" y1="474.02" x2="104.39" y2="481.70" stroke="#000" stroke-width="1.0" />
<line x1="102.99" y1="474.02" x2="105.80" y2="474.02" stroke="#000" stroke-width="1.0" />
<line x1="102.99" y1="481.70" x2="105.80" y2="481.70" stroke="#000" stroke-width="1.0" />
<rect x="111.96" y="477.86" width="4.35" height="39.44" fill="#c41e3a" />
<rect x="117.96" y="483.61" width="4.35" height="33.69" fill="#15548c" />
<line x1="114.14" y1="470.40" x2="114.14" y2="485.32" stroke="#000" stroke-width="1.0" />
<line x1="112.73" y1="470.40" x2="115.54" y2="470.40" stroke="#000" stroke-width="1.0" />
<line x1="112.73" y1="485.32" x2="115.54" y2="485.32" stroke="#000" stroke-width="1.0" />
<line x1="120.14" y1="470.40" x2="120.14" y2="496.83" stroke="#000" stroke-width="1.0" />
<line x1="118.73" y1="470.40" x2="121.54" y2="470.40" stroke="#000" stroke-width="1.0" />
<line x1="118.73" y1="496.83" x2="121.54" y2="496.83" stroke="#000" stroke-width="1.0" />
<rect x="127.70" y="504.29" width="4.35" height="13.01" fill="#c41e3a" />
<rect x="133.70" y="511.97" width="4.35" height="5.33" fill="#15548c" />
<line x1="129.88" y1="488.94" x2="129.88" y2="517.30" stroke="#000" stroke-width="1.0" />
<line x1="128.47" y1="488.94" x2="131.28" y2="488.94" stroke="#000" stroke-width="1.0" />
<line x1="128.47" y1="517.30" x2="131.28" y2="517.30" stroke="#000" stroke-width="1.0" />
<line x1="135.88" y1="505.15" x2="135.88" y2="517.30" stroke="#000" stroke-width="1.0" />
<line x1="134.47" y1="505.15" x2="137.28" y2="505.15" stroke="#000" stroke-width="1.0" />
<line x1="134.47" y1="517.30" x2="137.28" y2="517.30" stroke="#000" stroke-width="1.0" />
<rect x="143.44" y="459.95" width="4.35" height="57.35" fill="#c41e3a" />
<rect x="149.44" y="462.51" width="4.35" height="54.79" fill="#15548c" />
<line x1="145.62" y1="456.96" x2="145.62" y2="462.93" stroke="#000" stroke-width="1.0" />
<line x1="144.22" y1="456.96" x2="147.02" y2="456.96" stroke="#000" stroke-width="1.0" />
<line x1="144.22" y1="462.93" x2="147.02" y2="462.93" stroke="#000" stroke-width="1.0" />
<line x1="151.62" y1="458.24" x2="151.62" y2="466.77" stroke="#000" stroke-width="1.0" />
<line x1="150.22" y1="458.24" x2="153.02" y2="458.24" stroke="#000" stroke-width="1.0" />
<line x1="150.22" y1="466.77" x2="153.02" y2="466.77" stroke="#000" stroke-width="1.0" />
<rect x="159.18" y="485.11" width="4.35" height="32.19" fill="#c41e3a" />
<rect x="165.18" y="488.94" width="4.35" height="28.36" fill="#15548c" />
<line x1="161.36" y1="481.27" x2="161.36" y2="488.94" stroke="#000" stroke-width="1.0" />
<line x1="159.96" y1="481.27" x2="162.76" y2="481.27" stroke="#000" stroke-width="1.0" />
<line x1="159.96" y1="488.94" x2="162.76" y2="488.94" stroke="#000" stroke-width="1.0" />
<line x1="167.36" y1="486.39" x2="167.36" y2="491.50" stroke="#000" stroke-width="1.0" />
<line x1="165.96" y1="486.39" x2="168.76" y2="486.39" stroke="#000" stroke-width="1.0" />
<line x1="165.96" y1="491.50" x2="168.76" y2="491.50" stroke="#000" stroke-width="1.0" />
<rect x="174.92" y="478.92" width="4.35" height="38.38" fill="#c41e3a" />
<rect x="180.92" y="485.75" width="4.35" height="31.55" fill="#15548c" />
<line x1="177.10" y1="476.58" x2="177.10" y2="481.27" stroke="#000" stroke-width="1.0" />
<line x1="175.70" y1="476.58" x2="178.50" y2="476.58" stroke="#000" stroke-width="1.0" />
<line x1="175.70" y1="481.27" x2="178.50" y2="481.27" stroke="#000" stroke-width="1.0" />
<line x1="183.10" y1="482.55" x2="183.10" y2="488.94" stroke="#000" stroke-width="1.0" />
<line x1="181.70" y1="482.55" x2="184.50" y2="482.55" stroke="#000" stroke-width="1.0" />
<line x1="181.70" y1="488.94" x2="184.50" y2="488.94" stroke="#000" stroke-width="1.0" />
<rect x="190.66" y="494.27" width="4.35" height="23.03" fill="#c41e3a" />
<rect x="196.66" y="500.67" width="4.35" height="16.63" fill="#15548c" />
<line x1="192.84" y1="490.65" x2="192.84" y2="497.90" stroke="#000" stroke-width="1.0" />
<line x1="191.44" y1="490.65" x2="194.24" y2="490.65" stroke="#000" stroke-width="1.0" />
<line x1="191.44" y1="497.90" x2="194.24" y2="497.90" stroke="#000" stroke-width="1.0" />
<line x1="198.84" y1="497.47" x2="198.84" y2="503.87" stroke="#000" stroke-width="1.0" />
<line x1="197.44" y1="497.47" x2="200.24" y2="497.47" stroke="#000" stroke-width="1.0" />
<line x1="197.44" y1="503.87" x2="200.24" y2="503.87" stroke="#000" stroke-width="1.0" />
<rect x="206.40" y="428.82" width="4.35" height="88.48" fill="#c41e3a" />
<rect x="212.40" y="428.18" width="4.35" height="89.12" fill="#15548c" />
<line x1="208.58" y1="425.62" x2="208.58" y2="432.02" stroke="#000" stroke-width="1.0" />
<line x1="207.18" y1="425.62" x2="209.98" y2="425.62" stroke="#000" stroke-width="1.0" />
<line x1="207.18" y1="432.02" x2="209.98" y2="432.02" stroke="#000" stroke-width="1.0" />
<line x1="214.58" y1="424.77" x2="214.58" y2="431.59" stroke="#000" stroke-width="1.0" />
<line x1="213.18" y1="424.77" x2="215.98" y2="424.77" stroke="#000" stroke-width="1.0" />
<line x1="213.18" y1="431.59" x2="215.98" y2="431.59" stroke="#000" stroke-width="1.0" />
<rect x="222.14" y="494.27" width="4.35" height="23.03" fill="#c41e3a" />
<rect x="228.14" y="500.67" width="4.35" height="16.63" fill="#15548c" />
<line x1="224.32" y1="490.65" x2="224.32" y2="497.90" stroke="#000" stroke-width="1.0" />
<line x1="222.92" y1="490.65" x2="225.72" y2="490.65" stroke="#000" stroke-width="1.0" />
<line x1="222.92" y1="497.90" x2="225.72" y2="497.90" stroke="#000" stroke-width="1.0" />
<line x1="230.32" y1="497.47" x2="230.32" y2="503.87" stroke="#000" stroke-width="1.0" />
<line x1="228.92" y1="497.47" x2="231.72" y2="497.47" stroke="#000" stroke-width="1.0" />
<line x1="228.92" y1="503.87" x2="231.72" y2="503.87" stroke="#000" stroke-width="1.0" />
<rect x="237.88" y="435.00" width="4.35" height="82.30" fill="#c41e3a" />
<rect x="243.88" y="450.36" width="4.35" height="66.94" fill="#15548c" />
<line x1="240.06" y1="428.61" x2="240.06" y2="441.40" stroke="#000" stroke-width="1.0" />
<line x1="238.66" y1="428.61" x2="241.46" y2="428.61" stroke="#000" stroke-width="1.0" />
<line x1="238.66" y1="441.40" x2="241.46" y2="441.40" stroke="#000" stroke-width="1.0" />
<line x1="246.06" y1="448.65" x2="246.06" y2="452.06" stroke="#000" stroke-width="1.0" />
<line x1="244.66" y1="448.65" x2="247.46" y2="448.65" stroke="#000" stroke-width="1.0" />
<line x1="244.66" y1="452.06" x2="247.46" y2="452.06" stroke="#000" stroke-width="1.0" />
<rect x="253.62" y="499.39" width="4.35" height="17.91" fill="#c41e3a" />
<rect x="259.62" y="506.64" width="4.35" height="10.66" fill="#15548c" />
<line x1="255.80" y1="494.70" x2="255.80" y2="504.08" stroke="#000" stroke-width="1.0" />
<line x1="254.40" y1="494.70" x2="257.19" y2="494.70" stroke="#000" stroke-width="1.0" />
<line x1="254.40" y1="504.08" x2="257.19" y2="504.08" stroke="#000" stroke-width="1.0" />
<line x1="261.80" y1="506.00" x2="261.80" y2="507.28" stroke="#000" stroke-width="1.0" />
<line x1="260.40" y1="506.00" x2="263.19" y2="506.00" stroke="#000" stroke-width="1.0" />
<line x1="260.40" y1="507.28" x2="263.19" y2="507.28" stroke="#000" stroke-width="1.0" />
<rect x="269.36" y="506.64" width="4.35" height="10.66" fill="#c41e3a" />
<rect x="275.36" y="492.14" width="4.35" height="25.16" fill="#15548c" />
<line x1="271.54" y1="498.11" x2="271.54" y2="515.17" stroke="#000" stroke-width="1.0" />
<line x1="270.14" y1="498.11" x2="272.94" y2="498.11" stroke="#000" stroke-width="1.0" />
<line x1="270.14" y1="515.17" x2="272.94" y2="515.17" stroke="#000" stroke-width="1.0" />
<line x1="277.54" y1="475.09" x2="277.54" y2="509.20" stroke="#000" stroke-width="1.0" />
<line x1="276.14" y1="475.09" x2="278.94" y2="475.09" stroke="#000" stroke-width="1.0" />
<line x1="276.14" y1="509.20" x2="278.94" y2="509.20" stroke="#000" stroke-width="1.0" />
<line x1="46.30" y1="410.10" x2="46.30" y2="517.90" stroke="#000" stroke-width="1.2" />
<line x1="45.70" y1="517.30" x2="283.00" y2="517.30" stroke="#000" stroke-width="1.2" />
<line x1="42.30" y1="517.30" x2="46.30" y2="517.30" stroke="#000" stroke-width="1.0" />
<text x="34.20" y="524.40" font-size="7.6" text-anchor="end" >0</text>
<line x1="42.30" y1="495.98" x2="46.30" y2="495.98" stroke="#000" stroke-width="1.0" />
<text x="34.20" y="498.68" font-size="7.6" text-anchor="end" >10</text>
<line x1="42.30" y1="474.66" x2="46.30" y2="474.66" stroke="#000" stroke-width="1.0" />
<text x="34.20" y="477.36" font-size="7.6" text-anchor="end" >20</text>
<line x1="42.30" y1="453.34" x2="46.30" y2="453.34" stroke="#000" stroke-width="1.0" />
<text x="34.20" y="456.04" font-size="7.6" text-anchor="end" >30</text>
<line x1="42.30" y1="432.02" x2="46.30" y2="432.02" stroke="#000" stroke-width="1.0" />
<text x="34.20" y="434.72" font-size="7.6" text-anchor="end" >40</text>
<line x1="42.30" y1="410.70" x2="46.30" y2="410.70" stroke="#000" stroke-width="1.0" />
<text x="34.20" y="413.40" font-size="7.6" text-anchor="end" >50</text>
<line x1="54.17" y1="517.30" x2="54.17" y2="519.80" stroke="#000" stroke-width="1.0" />
<text transform="translate(57.47 526.30) rotate(-45)" font-size="9.0" text-anchor="end" textLength="60.632" lengthAdjust="spacingAndGlyphs" >H1.4: K25ME1</text>
<line x1="69.91" y1="517.30" x2="69.91" y2="519.80" stroke="#000" stroke-width="1.0" />
<text transform="translate(73.21 526.30) rotate(-45)" font-size="9.0" text-anchor="end" textLength="73.00800000000001" lengthAdjust="spacingAndGlyphs" >H3R2UN: K4ME1</text>
<line x1="85.66" y1="517.30" x2="85.66" y2="519.80" stroke="#000" stroke-width="1.0" />
<text transform="translate(88.95 526.30) rotate(-45)" font-size="9.0" text-anchor="end" textLength="73.00800000000001" lengthAdjust="spacingAndGlyphs" >H3R2UN: K4ME2</text>
<line x1="101.39" y1="517.30" x2="101.39" y2="519.80" stroke="#000" stroke-width="1.0" />
<text transform="translate(104.69 526.30) rotate(-45)" font-size="9.0" text-anchor="end" textLength="47.008" lengthAdjust="spacingAndGlyphs" >H3: K9ME1</text>
<line x1="117.14" y1="517.30" x2="117.14" y2="519.80" stroke="#000" stroke-width="1.0" />
<text transform="translate(120.44 526.30) rotate(-45)" font-size="9.0" text-anchor="end" textLength="52.416" lengthAdjust="spacingAndGlyphs" >H3: K79ME1</text>
<line x1="132.88" y1="517.30" x2="132.88" y2="519.80" stroke="#000" stroke-width="1.0" />
<text transform="translate(136.18 526.30) rotate(-45)" font-size="9.0" text-anchor="end" textLength="52.416" lengthAdjust="spacingAndGlyphs" >H3: K79ME2</text>
<line x1="148.62" y1="517.30" x2="148.62" y2="519.80" stroke="#000" stroke-width="1.0" />
<text transform="translate(151.92 526.30) rotate(-45)" font-size="9.0" text-anchor="end" textLength="60.632" lengthAdjust="spacingAndGlyphs" >H3.1: K27ME1</text>
<line x1="164.36" y1="517.30" x2="164.36" y2="519.80" stroke="#000" stroke-width="1.0" />
<text transform="translate(167.66 526.30) rotate(-45)" font-size="9.0" text-anchor="end" textLength="60.632" lengthAdjust="spacingAndGlyphs" >H3.1: K36ME1</text>
<line x1="180.10" y1="517.30" x2="180.10" y2="519.80" stroke="#000" stroke-width="1.0" />
<text transform="translate(183.40 526.30) rotate(-45)" font-size="9.0" text-anchor="end" textLength="60.632" lengthAdjust="spacingAndGlyphs" >H3.1: K36ME2</text>
<line x1="195.84" y1="517.30" x2="195.84" y2="519.80" stroke="#000" stroke-width="1.0" />
<text transform="translate(199.14 526.30) rotate(-45)" font-size="9.0" text-anchor="end" textLength="60.632" lengthAdjust="spacingAndGlyphs" >H3.1: K36ME3</text>
<line x1="211.58" y1="517.30" x2="211.58" y2="519.80" stroke="#000" stroke-width="1.0" />
<text transform="translate(214.88 526.30) rotate(-45)" font-size="9.0" text-anchor="end" textLength="60.632" lengthAdjust="spacingAndGlyphs" >H3.3: K27ME1</text>
<line x1="227.32" y1="517.30" x2="227.32" y2="519.80" stroke="#000" stroke-width="1.0" />
<text transform="translate(230.62 526.30) rotate(-45)" font-size="9.0" text-anchor="end" textLength="60.632" lengthAdjust="spacingAndGlyphs" >H3.3: K36ME1</text>
<line x1="243.06" y1="517.30" x2="243.06" y2="519.80" stroke="#000" stroke-width="1.0" />
<text transform="translate(246.36 526.30) rotate(-45)" font-size="9.0" text-anchor="end" textLength="60.632" lengthAdjust="spacingAndGlyphs" >H3.3: K36ME2</text>
<line x1="258.80" y1="517.30" x2="258.80" y2="519.80" stroke="#000" stroke-width="1.0" />
<text transform="translate(262.10 526.30) rotate(-45)" font-size="9.0" text-anchor="end" textLength="60.632" lengthAdjust="spacingAndGlyphs" >H3.3: K36ME3</text>
<line x1="274.54" y1="517.30" x2="274.54" y2="519.80" stroke="#000" stroke-width="1.0" />
<text transform="translate(277.84 526.30) rotate(-45)" font-size="9.0" text-anchor="end" textLength="52.416" lengthAdjust="spacingAndGlyphs" >H4: K20ME1</text>
<text transform="translate(14.30 464.20) rotate(-90)" font-size="9.8" text-anchor="middle" textLength="70.5" lengthAdjust="spacingAndGlyphs" >Relative Abundance</text>
<rect x="73.00" y="418.20" width="10.60" height="4.90" fill="#c41e3a" />
<text x="87.40" y="423.20" font-size="7.5" textLength="19.8" lengthAdjust="spacingAndGlyphs" >Day 7</text>
<rect x="73.00" y="433.50" width="10.60" height="4.90" fill="#15548c" />
<text x="87.40" y="438.60" font-size="7.5" textLength="24.2" lengthAdjust="spacingAndGlyphs" >Day 10</text>
<line x1="326.20" y1="482.07" x2="512.00" y2="482.07" stroke="#000" stroke-width="1.1" />
<rect x="330.80" y="487.16" width="8.10" height="30.54" fill="#c41e3a" />
<line x1="334.85" y1="485.74" x2="334.85" y2="488.59" stroke="#000" stroke-width="1.1" />
<line x1="332.55" y1="485.74" x2="337.15" y2="485.74" stroke="#000" stroke-width="1.1" />
<line x1="332.55" y1="488.59" x2="337.15" y2="488.59" stroke="#000" stroke-width="1.1" />
<rect x="342.92" y="492.76" width="8.10" height="24.94" fill="#c41e3a" />
<line x1="346.97" y1="491.69" x2="346.97" y2="493.83" stroke="#000" stroke-width="1.1" />
<line x1="344.67" y1="491.69" x2="349.27" y2="491.69" stroke="#000" stroke-width="1.1" />
<line x1="344.67" y1="493.83" x2="349.27" y2="493.83" stroke="#000" stroke-width="1.1" />
<rect x="355.04" y="495.79" width="8.10" height="21.91" fill="#c41e3a" />
<line x1="359.09" y1="495.07" x2="359.09" y2="496.50" stroke="#000" stroke-width="1.1" />
<line x1="356.79" y1="495.07" x2="361.39" y2="495.07" stroke="#000" stroke-width="1.1" />
<line x1="356.79" y1="496.50" x2="361.39" y2="496.50" stroke="#000" stroke-width="1.1" />
<rect x="367.16" y="482.42" width="8.10" height="35.28" fill="#c41e3a" />
<line x1="371.21" y1="481.35" x2="371.21" y2="483.49" stroke="#000" stroke-width="1.1" />
<line x1="368.91" y1="481.35" x2="373.51" y2="481.35" stroke="#000" stroke-width="1.1" />
<line x1="368.91" y1="483.49" x2="373.51" y2="483.49" stroke="#000" stroke-width="1.1" />
<rect x="379.28" y="487.77" width="8.10" height="29.93" fill="#c41e3a" />
<line x1="383.33" y1="485.99" x2="383.33" y2="489.55" stroke="#000" stroke-width="1.1" />
<line x1="381.03" y1="485.99" x2="385.63" y2="485.99" stroke="#000" stroke-width="1.1" />
<line x1="381.03" y1="489.55" x2="385.63" y2="489.55" stroke="#000" stroke-width="1.1" />
<rect x="391.40" y="503.80" width="8.10" height="13.90" fill="#c41e3a" />
<line x1="395.45" y1="503.09" x2="395.45" y2="504.52" stroke="#000" stroke-width="1.1" />
<line x1="393.15" y1="503.09" x2="397.75" y2="503.09" stroke="#000" stroke-width="1.1" />
<line x1="393.15" y1="504.52" x2="397.75" y2="504.52" stroke="#000" stroke-width="1.1" />
<rect x="403.52" y="483.85" width="8.10" height="33.85" fill="#c41e3a" />
<line x1="407.57" y1="483.14" x2="407.57" y2="484.56" stroke="#000" stroke-width="1.1" />
<line x1="405.27" y1="483.14" x2="409.87" y2="483.14" stroke="#000" stroke-width="1.1" />
<line x1="405.27" y1="484.56" x2="409.87" y2="484.56" stroke="#000" stroke-width="1.1" />
<rect x="415.64" y="486.49" width="8.10" height="31.21" fill="#c41e3a" />
<line x1="419.69" y1="485.95" x2="419.69" y2="487.02" stroke="#000" stroke-width="1.1" />
<line x1="417.39" y1="485.95" x2="421.99" y2="485.95" stroke="#000" stroke-width="1.1" />
<line x1="417.39" y1="487.02" x2="421.99" y2="487.02" stroke="#000" stroke-width="1.1" />
<rect x="427.76" y="488.37" width="8.10" height="29.33" fill="#c41e3a" />
<line x1="431.81" y1="486.95" x2="431.81" y2="489.80" stroke="#000" stroke-width="1.1" />
<line x1="429.51" y1="486.95" x2="434.11" y2="486.95" stroke="#000" stroke-width="1.1" />
<line x1="429.51" y1="489.80" x2="434.11" y2="489.80" stroke="#000" stroke-width="1.1" />
<rect x="439.88" y="492.51" width="8.10" height="25.19" fill="#c41e3a" />
<line x1="443.93" y1="491.26" x2="443.93" y2="493.75" stroke="#000" stroke-width="1.1" />
<line x1="441.63" y1="491.26" x2="446.23" y2="491.26" stroke="#000" stroke-width="1.1" />
<line x1="441.63" y1="493.75" x2="446.23" y2="493.75" stroke="#000" stroke-width="1.1" />
<rect x="452.00" y="482.07" width="8.10" height="35.63" fill="#c41e3a" />
<line x1="456.05" y1="481.35" x2="456.05" y2="482.78" stroke="#000" stroke-width="1.1" />
<line x1="453.75" y1="481.35" x2="458.35" y2="481.35" stroke="#000" stroke-width="1.1" />
<line x1="453.75" y1="482.78" x2="458.35" y2="482.78" stroke="#000" stroke-width="1.1" />
<rect x="464.12" y="486.49" width="8.10" height="31.21" fill="#c41e3a" />
<line x1="468.17" y1="484.70" x2="468.17" y2="488.27" stroke="#000" stroke-width="1.1" />
<line x1="465.87" y1="484.70" x2="470.47" y2="484.70" stroke="#000" stroke-width="1.1" />
<line x1="465.87" y1="488.27" x2="470.47" y2="488.27" stroke="#000" stroke-width="1.1" />
<rect x="476.24" y="489.30" width="8.10" height="28.40" fill="#c41e3a" />
<line x1="480.29" y1="489.02" x2="480.29" y2="489.59" stroke="#000" stroke-width="1.1" />
<line x1="477.99" y1="489.02" x2="482.59" y2="489.02" stroke="#000" stroke-width="1.1" />
<line x1="477.99" y1="489.59" x2="482.59" y2="489.59" stroke="#000" stroke-width="1.1" />
<rect x="488.36" y="496.00" width="8.10" height="21.70" fill="#c41e3a" />
<line x1="492.41" y1="495.46" x2="492.41" y2="496.53" stroke="#000" stroke-width="1.1" />
<line x1="490.11" y1="495.46" x2="494.71" y2="495.46" stroke="#000" stroke-width="1.1" />
<line x1="490.11" y1="496.53" x2="494.71" y2="496.53" stroke="#000" stroke-width="1.1" />
<rect x="500.48" y="439.31" width="8.10" height="78.39" fill="#c41e3a" />
<line x1="504.53" y1="426.12" x2="504.53" y2="452.49" stroke="#000" stroke-width="1.1" />
<line x1="502.23" y1="426.12" x2="506.83" y2="426.12" stroke="#000" stroke-width="1.1" />
<line x1="502.23" y1="452.49" x2="506.83" y2="452.49" stroke="#000" stroke-width="1.1" />
<line x1="326.20" y1="410.20" x2="326.20" y2="518.30" stroke="#000" stroke-width="1.2" />
<line x1="325.60" y1="517.70" x2="512.00" y2="517.70" stroke="#000" stroke-width="1.2" />
<line x1="321.20" y1="517.70" x2="326.20" y2="517.70" stroke="#000" stroke-width="1.0" />
<text x="319.50" y="521.80" font-size="8.0" text-anchor="end" >0</text>
<line x1="321.20" y1="482.07" x2="326.20" y2="482.07" stroke="#000" stroke-width="1.0" />
<text x="319.50" y="484.97" font-size="8.0" text-anchor="end" >1</text>
<line x1="321.20" y1="446.43" x2="326.20" y2="446.43" stroke="#000" stroke-width="1.0" />
<text x="319.50" y="449.33" font-size="8.0" text-anchor="end" >2</text>
<line x1="321.20" y1="410.80" x2="326.20" y2="410.80" stroke="#000" stroke-width="1.0" />
<text x="319.50" y="413.70" font-size="8.0" text-anchor="end" >3</text>
<line x1="334.85" y1="517.70" x2="334.85" y2="520.00" stroke="#000" stroke-width="1.0" />
<text transform="translate(338.05 522.50) rotate(-90)" font-size="8.9" text-anchor="end" textLength="58.9996" lengthAdjust="spacingAndGlyphs" >H1.4: K25ME1</text>
<line x1="346.97" y1="517.70" x2="346.97" y2="520.00" stroke="#000" stroke-width="1.0" />
<text transform="translate(350.17 522.50) rotate(-90)" font-size="8.9" text-anchor="end" textLength="71.0424" lengthAdjust="spacingAndGlyphs" >H3R2UN: K4ME1</text>
<line x1="359.09" y1="517.70" x2="359.09" y2="520.00" stroke="#000" stroke-width="1.0" />
<text transform="translate(362.29 522.50) rotate(-90)" font-size="8.9" text-anchor="end" textLength="71.0424" lengthAdjust="spacingAndGlyphs" >H3R2UN: K4ME2</text>
<line x1="371.21" y1="517.70" x2="371.21" y2="520.00" stroke="#000" stroke-width="1.0" />
<text transform="translate(374.41 522.50) rotate(-90)" font-size="8.9" text-anchor="end" textLength="45.7424" lengthAdjust="spacingAndGlyphs" >H3: K9ME1</text>
<line x1="383.33" y1="517.70" x2="383.33" y2="520.00" stroke="#000" stroke-width="1.0" />
<text transform="translate(386.53 522.50) rotate(-90)" font-size="8.9" text-anchor="end" textLength="51.004799999999996" lengthAdjust="spacingAndGlyphs" >H3: K79ME1</text>
<line x1="395.45" y1="517.70" x2="395.45" y2="520.00" stroke="#000" stroke-width="1.0" />
<text transform="translate(398.65 522.50) rotate(-90)" font-size="8.9" text-anchor="end" textLength="51.004799999999996" lengthAdjust="spacingAndGlyphs" >H3: K79ME2</text>
<line x1="407.57" y1="517.70" x2="407.57" y2="520.00" stroke="#000" stroke-width="1.0" />
<text transform="translate(410.77 522.50) rotate(-90)" font-size="8.9" text-anchor="end" textLength="58.9996" lengthAdjust="spacingAndGlyphs" >H3.1: K27ME1</text>
<line x1="419.69" y1="517.70" x2="419.69" y2="520.00" stroke="#000" stroke-width="1.0" />
<text transform="translate(422.89 522.50) rotate(-90)" font-size="8.9" text-anchor="end" textLength="58.9996" lengthAdjust="spacingAndGlyphs" >H3.1: K36ME1</text>
<line x1="431.81" y1="517.70" x2="431.81" y2="520.00" stroke="#000" stroke-width="1.0" />
<text transform="translate(435.01 522.50) rotate(-90)" font-size="8.9" text-anchor="end" textLength="58.9996" lengthAdjust="spacingAndGlyphs" >H3.1: K36ME2</text>
<line x1="443.93" y1="517.70" x2="443.93" y2="520.00" stroke="#000" stroke-width="1.0" />
<text transform="translate(447.13 522.50) rotate(-90)" font-size="8.9" text-anchor="end" textLength="58.9996" lengthAdjust="spacingAndGlyphs" >H3.1: K36ME3</text>
<line x1="456.05" y1="517.70" x2="456.05" y2="520.00" stroke="#000" stroke-width="1.0" />
<text transform="translate(459.25 522.50) rotate(-90)" font-size="8.9" text-anchor="end" textLength="58.9996" lengthAdjust="spacingAndGlyphs" >H3.3: K27ME1</text>
<line x1="468.17" y1="517.70" x2="468.17" y2="520.00" stroke="#000" stroke-width="1.0" />
<text transform="translate(471.37 522.50) rotate(-90)" font-size="8.9" text-anchor="end" textLength="58.9996" lengthAdjust="spacingAndGlyphs" >H3.3: K36ME1</text>
<line x1="480.29" y1="517.70" x2="480.29" y2="520.00" stroke="#000" stroke-width="1.0" />
<text transform="translate(483.49 522.50) rotate(-90)" font-size="8.9" text-anchor="end" textLength="58.9996" lengthAdjust="spacingAndGlyphs" >H3.3: K36ME2</text>
<line x1="492.41" y1="517.70" x2="492.41" y2="520.00" stroke="#000" stroke-width="1.0" />
<text transform="translate(495.61 522.50) rotate(-90)" font-size="8.9" text-anchor="end" textLength="58.9996" lengthAdjust="spacingAndGlyphs" >H3.3: K36ME3</text>
<line x1="504.53" y1="517.70" x2="504.53" y2="520.00" stroke="#000" stroke-width="1.0" />
<text transform="translate(507.73 522.50) rotate(-90)" font-size="8.9" text-anchor="end" textLength="51.004799999999996" lengthAdjust="spacingAndGlyphs" >H4: K20ME1</text>
<text transform="translate(306.80 464.20) rotate(-90)" font-size="10.3" text-anchor="middle" textLength="96.5" lengthAdjust="spacingAndGlyphs" >Fold Change Relative to D7</text>
</svg>
</body></html>
